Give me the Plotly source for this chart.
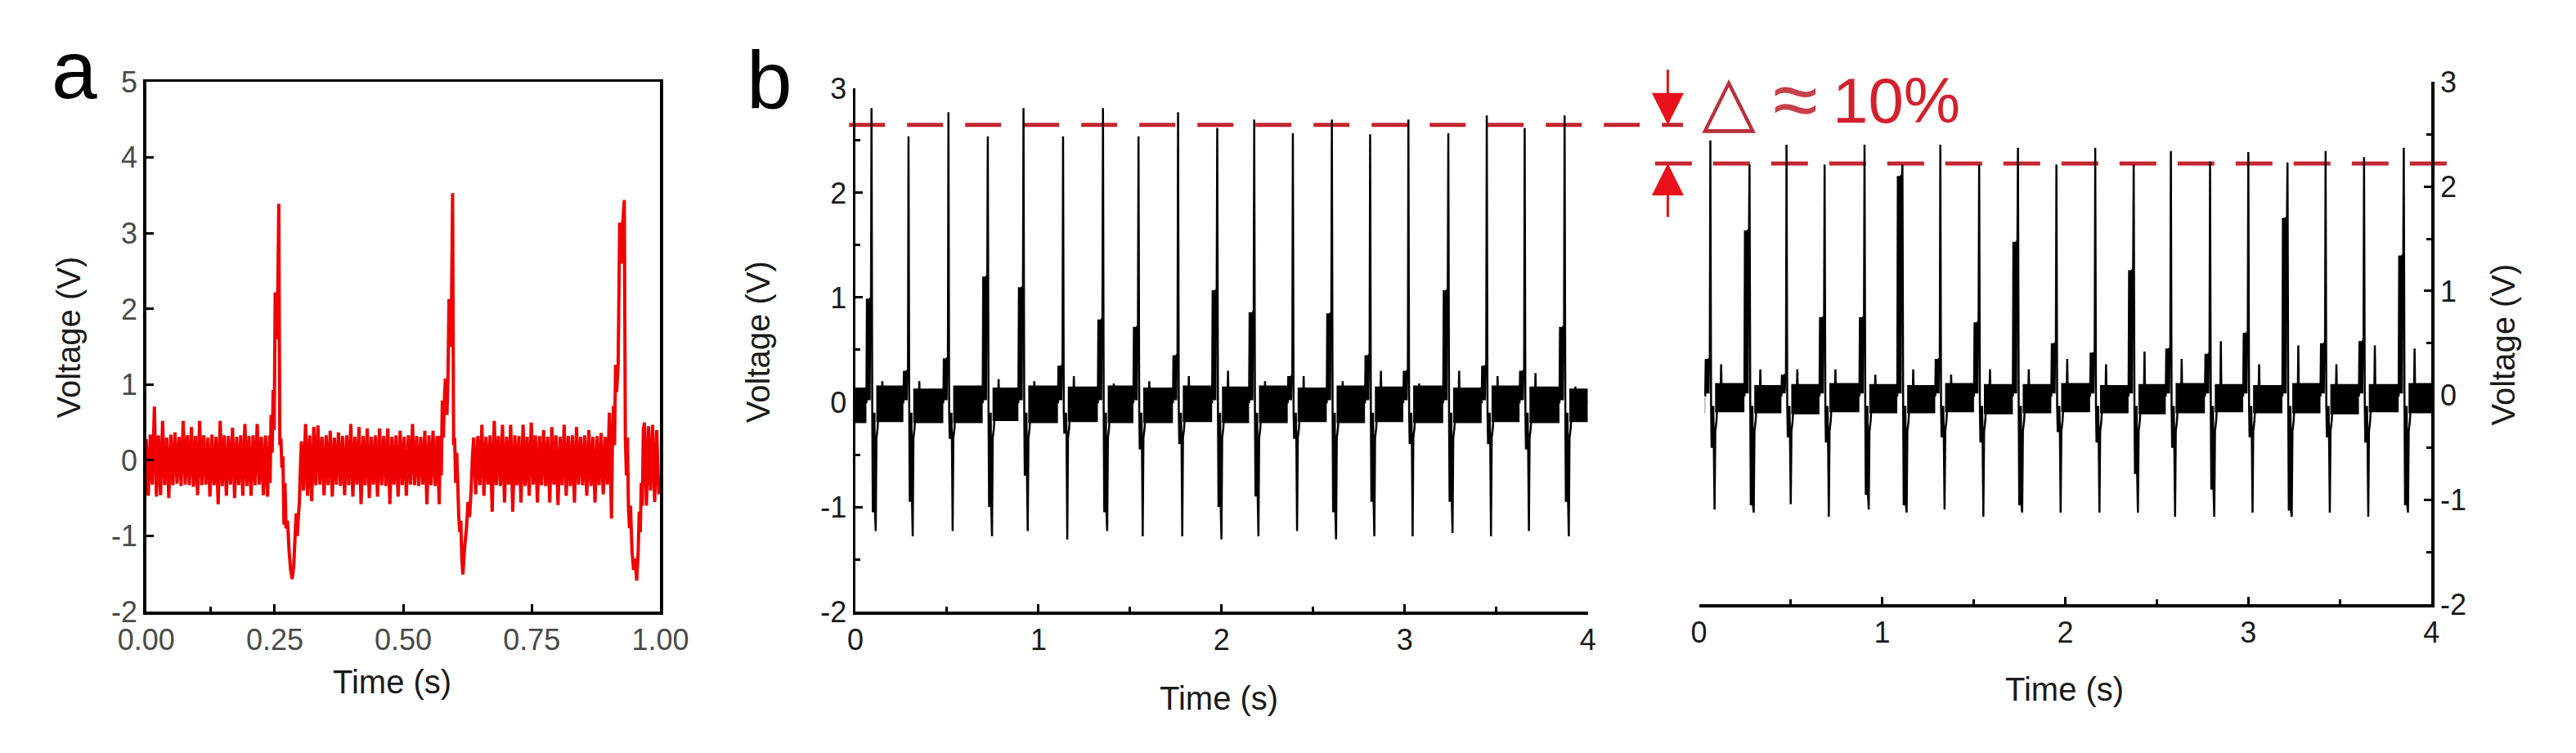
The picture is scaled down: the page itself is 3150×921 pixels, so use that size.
import plotly.graph_objects as go

W, H = 3150, 921

# ====================== DATA ======================
# ---- panel a : single 1 s recording (red) ----
# noise band: start time of each noise segment, high/low excursions of the trace
a_seg_start = [0.000, 0.302, 0.637, 0.969]
a_seg_step = 0.008
a_hi_1 = [0.28, 0.34, 0.71, 0.33, 0.52, 0.30, 0.34, 0.37, 0.31, 0.52, 0.33, 0.44, 0.32, 0.52, 0.33,
          0.30, 0.34, 0.31, 0.52, 0.33, 0.32, 0.43, 0.31, 0.33, 0.48, 0.32, 0.33, 0.48, 0.31, 0.33]
a_lo_1 = [-0.47, -0.32, -0.48, -0.46, -0.33, -0.50, -0.33, -0.31, -0.34, -0.32, -0.33, -0.35, -0.46, -0.33, -0.32,
          -0.48, -0.33, -0.58, -0.34, -0.47, -0.32, -0.50, -0.33, -0.47, -0.34, -0.47, -0.33, -0.32, -0.46, -0.48]
a_hi_2 = [0.25, 0.48, 0.33, 0.44, 0.46, 0.31, 0.33, 0.39, 0.30, 0.37, 0.32, 0.33, 0.48, 0.31, 0.44, 0.32, 0.42,
          0.31, 0.33, 0.42, 0.32, 0.42, 0.31, 0.33, 0.39, 0.31, 0.33, 0.48, 0.32, 0.31, 0.39, 0.33, 0.39, 0.32]
a_lo_2 = [-0.40, -0.47, -0.54, -0.33, -0.32, -0.46, -0.33, -0.48, -0.32, -0.34, -0.46, -0.33, -0.48, -0.32, -0.58, -0.33, -0.50,
          -0.32, -0.48, -0.33, -0.34, -0.58, -0.32, -0.48, -0.33, -0.47, -0.32, -0.33, -0.34, -0.32, -0.58, -0.33, -0.34, -0.58]
a_hi_3 = [0.30, 0.32, 0.47, 0.31, 0.33, 0.52, 0.32, 0.47, 0.31, 0.47, 0.33, 0.32, 0.47, 0.31, 0.50, 0.33, 0.32,
          0.40, 0.31, 0.44, 0.33, 0.31, 0.47, 0.32, 0.33, 0.44, 0.31, 0.33, 0.40, 0.31, 0.32, 0.36, 0.31, 0.63]
a_lo_3 = [-0.45, -0.33, -0.47, -0.32, -0.68, -0.33, -0.34, -0.56, -0.32, -0.68, -0.33, -0.56, -0.34, -0.47, -0.32, -0.56, -0.33,
          -0.34, -0.56, -0.32, -0.59, -0.33, -0.47, -0.34, -0.56, -0.32, -0.33, -0.47, -0.34, -0.56, -0.33, -0.45, -0.32, -0.77]
a_hi_4 = [0.50, 0.45, 0.47, 0.40]
a_lo_4 = [-0.60, -0.40, -0.55, -0.45]
# heart-beat complexes
a_beat1_t = [0.240, 0.241, 0.243, 0.245, 0.247, 0.249, 0.251, 0.254, 0.256, 0.258, 0.260, 0.262, 0.264, 0.266,
             0.268, 0.270, 0.272, 0.275, 0.278, 0.281, 0.284, 0.287, 0.290, 0.292, 0.294, 0.296, 0.298, 0.300]
a_beat1_v = [0.33, -0.30, 0.60, 0.10, 0.93, 0.40, 2.22, 1.60, 2.22, 3.39, 0.20, 0.29, -0.10, 0.05,
             -0.85, -0.30, -0.90, -0.80, -1.20, -1.45, -1.57, -1.40, -0.95, -0.70, -1.00, -0.75, -0.55, -0.10]
a_beat2_t = [0.572, 0.574, 0.576, 0.578, 0.580, 0.582, 0.585, 0.587, 0.589, 0.592, 0.594, 0.596, 0.598, 0.600, 0.602,
             0.604, 0.606, 0.608, 0.610, 0.612, 0.614, 0.616, 0.618, 0.620, 0.623, 0.626, 0.629, 0.632, 0.635]
a_beat2_v = [0.32, -0.20, 0.79, 0.30, 0.79, 1.08, 0.60, 1.08, 2.13, 1.50, 2.13, 3.53, 0.20, 0.30, -0.30,
             0.10, -0.30, -0.75, -0.95, -0.80, -1.30, -1.51, -1.30, -1.10, -0.90, -0.55, -0.75, -0.40, 0.10]
a_beat3_t = [0.907, 0.909, 0.911, 0.913, 0.915, 0.918, 0.921, 0.924, 0.927, 0.930, 0.932, 0.934, 0.936,
             0.938, 0.940, 0.942, 0.945, 0.948, 0.951, 0.954, 0.957, 0.959, 0.961, 0.963, 0.965, 0.967]
a_beat3_v = [0.30, 0.72, 0.20, 1.26, 0.90, 1.26, 3.14, 2.60, 3.14, 3.44, 0.30, -0.20, 0.30,
             -0.60, -0.90, -0.60, -1.20, -1.45, -1.30, -1.59, -1.20, -0.68, -0.95, -0.30, -0.60, 0.40]

# ---- panel b, left : 4 s recording before ----
bL_t = [0.088, 0.290, 0.508, 0.723, 0.918, 1.134, 1.352, 1.546, 1.762, 1.976,
        2.178, 2.389, 2.602, 2.811, 3.020, 3.238, 3.448, 3.655, 3.873]
bL_peak = [2.81, 2.54, 2.77, 2.54, 2.81, 2.54, 2.81, 2.54, 2.77, 2.62,
           2.70, 2.57, 2.70, 2.56, 2.70, 2.57, 2.74, 2.62, 2.74]
bL_pre = [0.99, 0.30, 0.42, 1.20, 1.10, 0.35, 0.79, 0.72, 0.45, 1.07,
          0.86, 0.25, 0.85, 0.45, 0.30, 1.07, 0.35, 0.30, 0.72]
bL_neg = [-1.05, -0.95, -0.35, -1.00, -0.70, -0.30, -1.05, -0.45, -0.40, -1.00,
          -0.90, -0.35, -1.05, -0.95, -0.40, -0.95, -0.40, -0.45, -0.95]
bL_trough = [-1.23, -1.28, -1.23, -1.28, -1.23, -1.31, -1.23, -1.28, -1.28, -1.31,
             -1.28, -1.23, -1.31, -1.28, -1.28, -1.25, -1.28, -1.23, -1.28]
bL_post = [0.20, 0.20, 0.15, 0.22, 0.20, 0.25, 0.18, 0.20, 0.25, 0.30,
           0.20, 0.25, 0.20, 0.30, 0.18, 0.30, 0.25, 0.28, 0.15]
bL_band_hi = [0.14, 0.16, 0.13, 0.16, 0.14, 0.16, 0.15, 0.16, 0.14, 0.16,
              0.15, 0.16, 0.14, 0.16, 0.15, 0.16, 0.14, 0.16, 0.15, 0.13]
bL_band_lo = [-0.20, -0.19, -0.20, -0.20, -0.18, -0.20, -0.19, -0.20, -0.20, -0.19,
              -0.20, -0.20, -0.19, -0.20, -0.19, -0.20, -0.20, -0.19, -0.20, -0.19]
bL_span = [0.0, 4.0]

# ---- panel b, right : 4 s recording after ----
bR_t = [0.062, 0.276, 0.478, 0.686, 0.904, 1.111, 1.318, 1.530, 1.742, 1.952,
        2.164, 2.374, 2.577, 2.791, 3.000, 3.214, 3.422, 3.632, 3.849]
bR_peak = [2.44, 2.21, 2.40, 2.21, 2.40, 2.21, 2.40, 2.21, 2.37, 2.21,
           2.37, 2.21, 2.34, 2.24, 2.33, 2.23, 2.34, 2.28, 2.37]
bR_pre = [0.35, 1.58, 0.20, 0.75, 0.75, 2.10, 0.35, 0.70, 1.47, 0.50,
          0.41, 1.20, 0.45, 0.40, 0.60, 1.70, 0.50, 0.52, 1.34]
bR_neg = [-0.50, -1.05, -0.40, -0.45, -0.95, -1.05, -0.40, -0.45, -1.05, -0.35,
          -0.45, -0.75, -0.50, -0.90, -0.40, -1.10, -0.40, -0.45, -1.05]
bR_trough = [-1.09, -1.12, -1.04, -1.16, -1.09, -1.12, -1.09, -1.16, -1.12, -1.12,
             -1.12, -1.12, -1.16, -1.16, -1.12, -1.16, -1.12, -1.16, -1.12]
bR_post = [0.30, 0.25, 0.25, 0.25, 0.20, 0.25, 0.20, 0.25, 0.25, 0.35,
           0.30, 0.42, 0.35, 0.52, 0.30, 0.48, 0.30, 0.48, 0.45]
bR_band_hi = [0.11, 0.12, 0.10, 0.11, 0.12, 0.11, 0.10, 0.12, 0.11, 0.11,
              0.12, 0.10, 0.11, 0.12, 0.11, 0.10, 0.12, 0.11, 0.11, 0.12]
bR_band_lo = [-0.17, -0.16, -0.17, -0.18, -0.16, -0.17, -0.17, -0.16, -0.18, -0.17,
              -0.16, -0.17, -0.18, -0.17, -0.16, -0.17, -0.17, -0.18, -0.16, -0.17]
bR_span = [0.032, 4.0]

# reference peak levels (dashed lines)
level_before = 2.65
level_after = 2.22
delta_text = "10%"

# tick labels
a_xtickvals = [0, 0.25, 0.5, 0.75, 1.0]
a_xticktext = ["0.00", "0.25", "0.50", "0.75", "1.00"]
a_ytickvals = [-2, -1, 0, 1, 2, 3, 4, 5]
a_yticktext = ["-2", "-1", "0", "1", "2", "3", "4", "5"]
b_xtickvals = [0, 1, 2, 3, 4]
b_xticktext = ["0", "1", "2", "3", "4"]
b_ytickvals = [-2, -1, 0, 1, 2, 3]
b_yticktext = ["-2", "-1", "0", "1", "2", "3"]

# ====================== BUILD ======================
FONT = "Liberation Sans, Arial, sans-serif"
RED = "#f00000"
DASH_RED = "#c4262e"


def px_x(px):
    return px / W


def px_y(py):
    return 1 - py / H


def noise_segment(start, hi, lo, step):
    xs, ys = [], []
    for k, (h, l) in enumerate(zip(hi, lo)):
        xs += [start + step * k, start + step * k + step / 2]
        ys += [h, l]
    return xs, ys


a_x, a_y = [], []
segs = [(a_hi_1, a_lo_1), (a_hi_2, a_lo_2), (a_hi_3, a_lo_3), (a_hi_4, a_lo_4)]
beats = [(a_beat1_t, a_beat1_v), (a_beat2_t, a_beat2_v), (a_beat3_t, a_beat3_v), ([], [])]
for s0, (hi, lo), (bt, bv) in zip(a_seg_start, segs, beats):
    xs, ys = noise_segment(s0, hi, lo, a_seg_step)
    a_x += xs + list(bt)
    a_y += ys + list(bv)


def beat_points(t, pre, peak, neg, trough, post):
    pts = [(-0.028, 0.0), (-0.025, pre), (-0.022, 0.02), (-0.019, pre), (-0.016, 0.02),
           (-0.013, pre), (-0.010, 0.02), (-0.007, pre), (-0.003, pre), (0.0, peak),
           (0.004, -0.10), (0.007, neg), (0.010, -0.10), (0.013, neg), (0.016, -0.10),
           (0.019, neg), (0.023, trough), (0.027, -0.34), (0.033, -0.25), (0.040, -0.05),
           (0.056, 0.0), (0.059, post), (0.062, 0.0)]
    return [t + d for d, _ in pts], [v for _, v in pts]


def panel_b_traces(ts, peak, pre, neg, trough, post, hi, lo, span, xa, ya):
    bx, by = [], []
    for j in range(len(ts) + 1):
        s = span[0] if j == 0 else ts[j - 1] + 0.026
        e = span[1] if j == len(ts) else ts[j] - 0.028
        bx += [s, e, e, s, s, None]
        by += [hi[j], hi[j], lo[j], lo[j], hi[j], None]
    band = go.Scatter(x=bx, y=by, mode="lines", fill="toself", fillcolor="black",
                      line=dict(width=0, color="black"), xaxis=xa, yaxis=ya,
                      hoverinfo="skip", showlegend=False)
    lx, ly = [span[0]], [0.0]
    for i, t in enumerate(ts):
        x, y = beat_points(t, pre[i], peak[i], neg[i], trough[i], post[i])
        lx += x
        ly += y
    lx.append(span[1])
    ly.append(0.0)
    line = go.Scatter(x=lx, y=ly, mode="lines", line=dict(color="black", width=2.5, simplify=False),
                      xaxis=xa, yaxis=ya, hoverinfo="skip", showlegend=False)
    return [band, line]


fig = go.Figure()
fig.add_trace(go.Scatter(x=a_x, y=a_y, mode="lines", line=dict(color=RED, width=4, simplify=False),
                         xaxis="x", yaxis="y", hoverinfo="skip", showlegend=False))
for tr in panel_b_traces(bL_t, bL_peak, bL_pre, bL_neg, bL_trough, bL_post,
                         bL_band_hi, bL_band_lo, bL_span, "x2", "y2"):
    fig.add_trace(tr)
for tr in panel_b_traces(bR_t, bR_peak, bR_pre, bR_neg, bR_trough, bR_post,
                         bR_band_hi, bR_band_lo, bR_span, "x3", "y3"):
    fig.add_trace(tr)

axis_common = dict(showline=True, linecolor="black", linewidth=3.5, ticks="inside",
                   tickcolor="black", tickwidth=3, ticklen=9, showgrid=False,
                   zeroline=False, fixedrange=True)
tick_a = dict(family=FONT, size=36, color="#4a4a4a")
tick_b = dict(family=FONT, size=36, color="#1a1a1a")
minor_b = dict(dtick=0.5, ticks="inside", ticklen=6, tickwidth=3, tickcolor="black", showgrid=False)

fig.update_layout(
    width=W, height=H, margin=dict(l=0, r=0, t=0, b=0),
    paper_bgcolor="white", plot_bgcolor="white", showlegend=False,
    xaxis=dict(domain=[px_x(147), px_x(790)], range=[0, 1], anchor="y", mirror=True,
               tickvals=a_xtickvals, ticktext=a_xticktext, tickfont=tick_a,
               minor=dict(tickvals=[0.125], ticks="inside", ticklen=6, tickwidth=3,
                          tickcolor="black", showgrid=False),
               **axis_common),
    yaxis=dict(domain=[px_y(762), px_y(84)], range=[-2, 5], anchor="x", mirror=True,
               tickvals=a_ytickvals, ticktext=a_yticktext, tickfont=tick_a, **axis_common),
    xaxis2=dict(domain=[px_x(1034), px_x(1950)], range=[0, 4], anchor="y2",
                tickvals=b_xtickvals, ticktext=b_xticktext, tickfont=tick_b, minor=minor_b,
                **axis_common),
    yaxis2=dict(domain=[px_y(762), px_y(92)], range=[-2, 3], anchor="x2",
                tickvals=b_ytickvals, ticktext=b_yticktext, tickfont=tick_b, minor=minor_b,
                **axis_common),
    xaxis3=dict(domain=[px_x(2089), px_x(3005)], range=[0, 4], anchor="y3",
                tickvals=b_xtickvals, ticktext=b_xticktext, tickfont=tick_b, minor=minor_b,
                **axis_common),
    yaxis3=dict(domain=[px_y(753), px_y(84)], range=[-2, 3], anchor="x3", side="right",
                tickvals=b_ytickvals, ticktext=b_yticktext, tickfont=tick_b, minor=minor_b,
                **axis_common),
)

# dashed reference lines
fig.add_shape(type="line", xref="paper", yref="y2", x0=px_x(1026), x1=px_x(2069),
              y0=level_before, y1=level_before, layer="below",
              line=dict(color=DASH_RED, width=5, dash="44px,27px"))
fig.add_shape(type="line", xref="paper", yref="y3", x0=px_x(2034), x1=px_x(3043),
              y0=level_after, y1=level_after, layer="below",
              line=dict(color=DASH_RED, width=5, dash="45px,26px"))

title_font = dict(family=FONT, size=40, color="#1a1a1a")
ann = []
ann.append(dict(text="a", x=px_x(27), y=px_y(68), xanchor="left", yanchor="middle",
                font=dict(family=FONT, size=100, color="black")))
ann.append(dict(text="b", x=px_x(896), y=px_y(82), xanchor="left", yanchor="middle",
                font=dict(family=FONT, size=100, color="black")))
ann.append(dict(text="Voltage (V)", x=px_x(50), y=px_y(411), textangle=-90, font=title_font))
ann.append(dict(text="Time (s)", x=px_x(455), y=px_y(852), font=title_font))
ann.append(dict(text="Voltage (V)", x=px_x(913), y=px_y(417), textangle=-90, font=title_font))
ann.append(dict(text="Time (s)", x=px_x(1489), y=px_y(873), font=title_font))
ann.append(dict(text="Time (s)", x=px_x(2546), y=px_y(861), font=title_font))
ann.append(dict(text="Voltage (V)", x=px_x(3095), y=px_y(420), textangle=-90, font=title_font))
ann.append(dict(text="△", x=px_x(2126), y=px_y(107),
                font=dict(family="DejaVu Sans", size=86, color="#b8303a")))
ann.append(dict(text="≈", x=px_x(2210), y=px_y(106),
                font=dict(family=FONT, size=100, color="#c8404a")))
ann.append(dict(text=delta_text, x=px_x(2254), y=px_y(108), xanchor="left",
                font=dict(family=FONT, size=78, color="#d4202c")))
for a in ann:
    a.update(xref="paper", yref="paper", showarrow=False)
    a.setdefault("xanchor", "center")
    a.setdefault("yanchor", "middle")
# arrows pointing at the two levels
ann.append(dict(text="", xref="paper", yref="y2", x=px_x(2050), y=level_before,
                ax=0, ay=-69, showarrow=True, arrowhead=2, arrowsize=2.6, arrowwidth=3,
                arrowcolor="#e8101a"))
ann.append(dict(text="", xref="paper", yref="y3", x=px_x(2050), y=level_after,
                ax=0, ay=67, showarrow=True, arrowhead=2, arrowsize=2.6, arrowwidth=3,
                arrowcolor="#e8101a"))
fig.update_layout(annotations=ann)

fig.write_html("out.html", config={"displayModeBar": False, "staticPlot": True},
               post_script="document.body.style.margin='0';document.body.style.overflow='hidden';")
